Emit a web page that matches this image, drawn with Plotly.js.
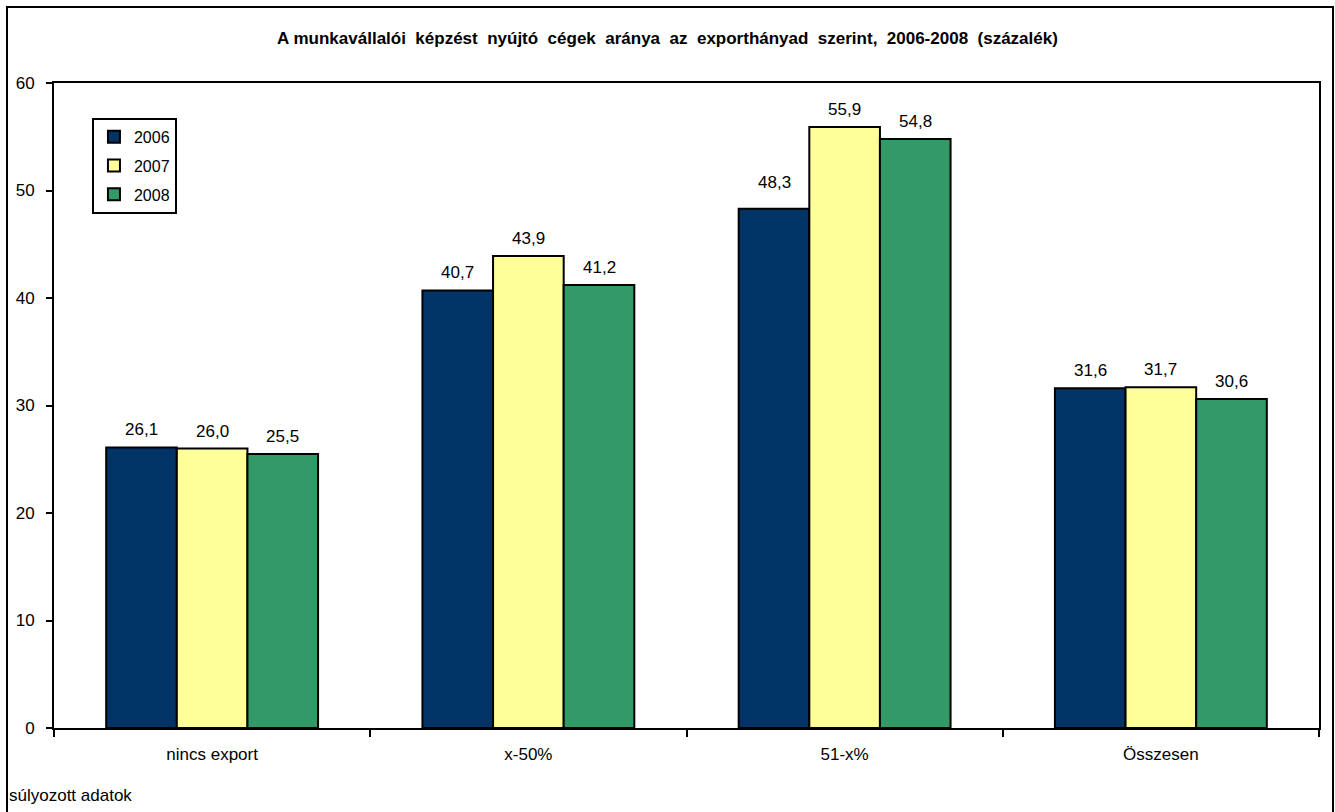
<!DOCTYPE html>
<html>
<head>
<meta charset="utf-8">
<script src="https://cdn.plot.ly/plotly-3.0.1.min.js"></script>
<style>
html,body{margin:0;padding:0;background:#fff;overflow:hidden;}
#frame{position:absolute;left:6px;top:6px;width:1324px;height:820px;border:2px solid #000;pointer-events:none;z-index:10;}
#chart{position:absolute;left:0;top:0;width:1335px;height:812px;}
</style>
</head>
<body>
<div id="chart"></div>
<div id="frame"></div>
<script>
var categories = ["nincs export", "x-50%", "51-x%", "Összesen"];
var years = ["2006", "2007", "2008"];
var values2006 = [26.1, 40.7, 48.3, 31.6];
var values2007 = [26.0, 43.9, 55.9, 31.7];
var values2008 = [25.5, 41.2, 54.8, 30.6];
var yTicks = [0, 10, 20, 30, 40, 50, 60];
var colors = ["#003366", "#FFFF99", "#339966"];
var titleWords = ["A", "munkavállalói", "képzést", "nyújtó", "cégek", "aránya", "az", "exporthányad", "szerint,", "2006-2008", "(százalék)"];
var noteText = "súlyozott adatok";

function fmt(v){ return v.toFixed(1).replace('.', ','); }

var FONT = 'Liberation Sans, Arial, sans-serif';
var W = 1335, H = 812;
var M = {l: 54, r: 16, t: 83, b: 84};
var BARGAP = 0.33;
var plotW = W - M.l - M.r;
var barW = plotW / categories.length * (1 - BARGAP) / years.length;

var series = [values2006, values2007, values2008];
var traces = series.map(function(vals, i){
  return {
    type: 'bar',
    name: years[i],
    x: categories,
    y: vals,
    marker: {color: colors[i], line: {color: '#000', width: 2}},
    legendgroup: 'g' + i,
    hoverinfo: 'none'
  };
});

var annotations = [];
series.forEach(function(vals, i){
  vals.forEach(function(v, j){
    var lift = (i === 0 && j === 2) ? 15 : 6;
    annotations.push({
      x: categories[j], y: v, xref: 'x', yref: 'y',
      xshift: (i - 1) * barW, yshift: lift,
      text: fmt(v), showarrow: false,
      xanchor: 'center', yanchor: 'bottom',
      font: {family: FONT, size: 17, color: '#000'}
    });
  });
});
annotations.push({
  text: noteText, xref: 'paper', yref: 'paper',
  x: -M.l/plotW + 7/plotW, y: -(795-728)/645, xanchor: 'left', yanchor: 'middle',
  showarrow: false, font: {size: 17}
});

var titleText = titleWords[0] + ' ' + titleWords.slice(1).join('&nbsp; ');

var layout = {
  width: W, height: H,
  margin: M,
  paper_bgcolor: '#fff', plot_bgcolor: '#fff',
  font: {family: FONT, size: 17, color: '#000'},
  barmode: 'group',
  bargap: BARGAP,
  bargroupgap: 0,
  title: {text: '<b>' + titleText + '</b>', x: 0.5, xref: 'container', y: 1 - 38/812, yref: 'container', yanchor: 'middle',
          font: {family: FONT, size: 17, color: '#000'}},
  xaxis: {
    type: 'category',
    showline: true, linecolor: '#000', linewidth: 2, mirror: true,
    ticks: 'outside', tickson: 'boundaries', ticklen: 7, tickwidth: 2, tickcolor: '#000',
    ticklabelstandoff: 10,
    showgrid: false, zeroline: false,
    tickfont: {size: 17}
  },
  yaxis: {
    range: [0, 60],
    tickvals: yTicks,
    showline: true, linecolor: '#000', linewidth: 2, mirror: true,
    ticks: 'outside', ticklen: 6, tickwidth: 2, tickcolor: '#000',
    ticklabelstandoff: 8,
    showgrid: false, zeroline: false,
    tickfont: {size: 17}
  },
  showlegend: true,
  legend: {
    x: 0.03, y: 0.946, xanchor: 'left', yanchor: 'top',
    bordercolor: '#000', borderwidth: 2, bgcolor: '#fff',
    tracegroupgap: 5,
    font: {size: 16},
    itemwidth: 30
  },
  annotations: annotations
};

Plotly.newPlot('chart', traces, layout, {displayModeBar: false, staticPlot: true});
</script>
</body>
</html>
